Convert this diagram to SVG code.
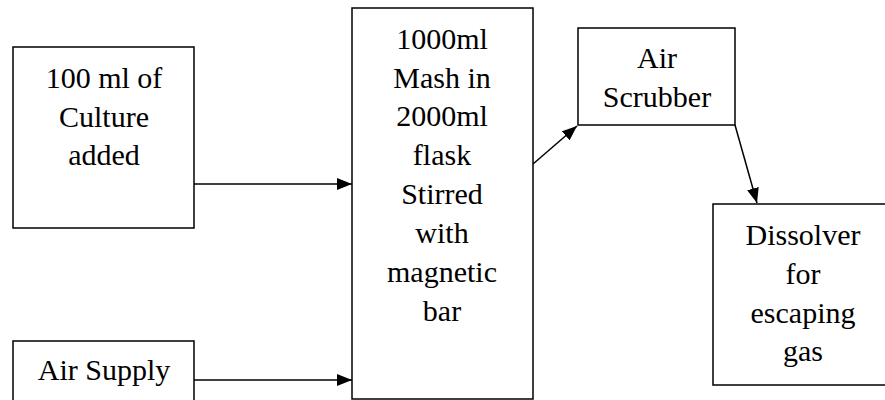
<svg xmlns="http://www.w3.org/2000/svg" width="885" height="400" viewBox="0 0 885 400">
<style>
.box{fill:#fff;stroke:#000;stroke-width:1.5}
.t{font-family:"Liberation Serif","Times New Roman",serif;font-size:30px;fill:#000;text-anchor:middle}
.c{stroke:#000;stroke-width:1.5;fill:none;marker-end:url(#ah)}
</style>
<defs>
<marker id="ah" viewBox="0 0 15 12" refX="15" refY="6" markerWidth="15" markerHeight="12" markerUnits="userSpaceOnUse" orient="auto">
<path d="M0,0 L15,6 L0,12 Z" fill="#000"/>
</marker>
</defs>
<rect width="885" height="400" fill="#fff"/>
<g id="connectors">
<line class="c" x1="194" y1="184" x2="352" y2="184"/>
<line class="c" x1="194" y1="380" x2="352" y2="380"/>
<line class="c" x1="533" y1="164" x2="577" y2="126"/>
<line class="c" x1="735" y1="125" x2="757" y2="203"/>
</g>
<g id="culture">
<rect class="box" x="13" y="47" width="181" height="181"/>
<text class="t" x="104" y="88">100 ml of</text>
<text class="t" x="104" y="127">Culture</text>
<text class="t" x="104" y="165">added</text>
</g>
<g id="airsupply">
<rect class="box" x="13" y="341" width="181" height="80"/>
<text class="t" x="104" y="380">Air Supply</text>
</g>
<g id="mash">
<rect class="box" x="352" y="8" width="181" height="391"/>
<text class="t" x="442" y="49">1000ml</text>
<text class="t" x="442" y="88">Mash in</text>
<text class="t" x="442" y="126">2000ml</text>
<text class="t" x="442" y="165">flask</text>
<text class="t" x="442" y="204">Stirred</text>
<text class="t" x="442" y="243">with</text>
<text class="t" x="442" y="282">magnetic</text>
<text class="t" x="442" y="321">bar</text>
</g>
<g id="scrubber">
<rect class="box" x="578" y="28" width="157" height="97"/>
<text class="t" x="657" y="68">Air</text>
<text class="t" x="657" y="107">Scrubber</text>
</g>
<g id="dissolver">
<rect class="box" x="713" y="204" width="180" height="181"/>
<text class="t" x="803" y="245">Dissolver</text>
<text class="t" x="803" y="284">for</text>
<text class="t" x="803" y="323">escaping</text>
<text class="t" x="803" y="361">gas</text>
</g>
</svg>
